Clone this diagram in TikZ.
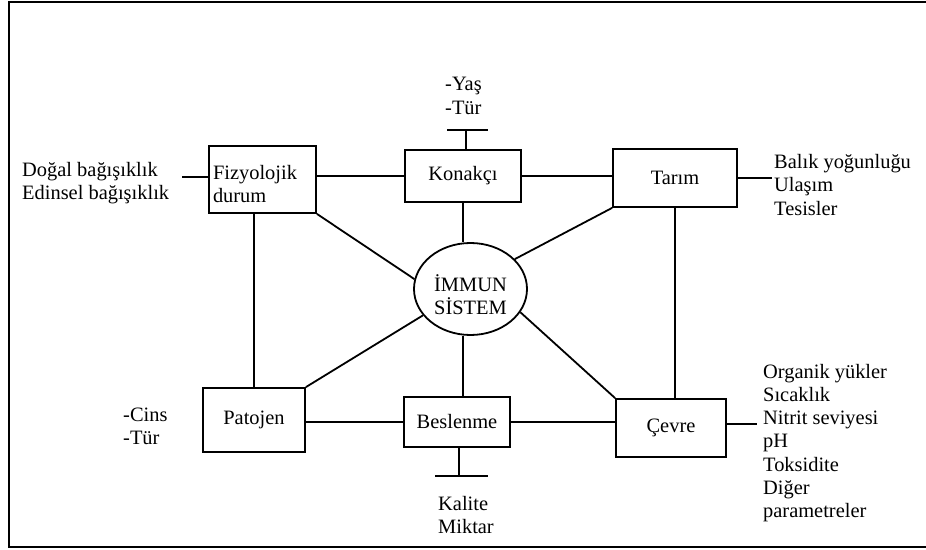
\documentclass[tikz,border=0pt]{standalone}
\usepackage{fontspec}
\setmainfont{Liberation Serif}
\usetikzlibrary{shapes.geometric}
\begin{document}
\begin{tikzpicture}[x=1bp,y=-1bp,
  every node/.style={font=\fontsize{20.5}{23.3}\selectfont},
  box/.style={draw, line width=1.8bp, inner sep=0pt, align=center},
  lbl/.style={inner sep=0pt, align=left, anchor=west},
  conn/.style={line width=1.8bp}]
\useasboundingbox (0,0) rectangle (926,550);
\draw[line width=2bp] (940,2) -- (9,2) -- (9,547) -- (940,547);

% boxes
\node[box, minimum width=107bp, minimum height=67bp, text width=99bp, inner xsep=4bp, align=left] (fiz) at (262.5,179.5) {\rule{0pt}{24pt}Fizyolojik\\durum};
\node[box, minimum width=116bp, minimum height=52bp] (kon) at (463,176) {Konakçı};
\node[box, minimum width=124bp, minimum height=58bp] (tar) at (675,178) {Tarım};
\node[box, minimum width=102bp, minimum height=64bp] (pat) at (254,420) {Patojen};
\node[box, minimum width=106bp, minimum height=50bp] (bes) at (457,422) {Beslenme};
\node[box, minimum width=110bp, minimum height=58bp] (cev) at (671,428) {Çevre};
\node[draw, ellipse, line width=1.8bp, minimum width=113bp, minimum height=92bp, inner sep=0pt] (imm) at (470.5,289) {};
\node[inner sep=0pt, align=center] (immt) at (470.5,295) {İMMUN\\SİSTEM};

% side texts
\node[lbl] (dogal) at (22,183) {Doğal bağışıklık\\Edinsel bağışıklık};
\node[lbl] (yas) at (445,96) {-Yaş\\-Tür};
\node[lbl] (balik) at (774,185) {Balık yoğunluğu\\Ulaşım\\Tesisler};
\node[lbl] (cins) at (123,426) {-Cins\\-Tür};
\node[lbl] (kalite) at (438,515) {Kalite\\Miktar};
\node[lbl] (cevt) at (763,443) {Organik yükler\\Sıcaklık\\Nitrit seviyesi\\pH\\Toksidite\\Diğer\\parametreler};

% free ends
\coordinate (fizL) at (182,177);
\coordinate (konT) at (466,130);
\coordinate (konTa) at (447,130);
\coordinate (konTb) at (488,130);
\coordinate (tarR) at (772,178);
\coordinate (cevR) at (757,424);
\coordinate (besT) at (459,476);
\coordinate (besTa) at (435,476);
\coordinate (besTb) at (488,476);

% connectors
\draw[conn] (fizL) -- (fizL -| fiz.west);
\draw[conn] (fiz.east |- kon.west) -- (kon.west);
\draw[conn] (kon.east) -- (kon.east -| tar.west);
\draw[conn] (tar.east) -- (tarR);
\draw[conn] (kon.north -| konT) -- (konT);
\draw[conn] (konTa) -- (konTb);
\draw[conn] (pat.north) -- (pat.north |- fiz.south);
\draw[conn] (kon.south) -- (kon.south |- imm.north);
\draw[conn] (kon.south |- imm.south) -- (kon.south |- bes.north);
\draw[conn] (tar.south) -- (tar.south |- cev.north);
\draw[conn] (bes.west -| pat.east) -- (bes.west);
\draw[conn] (bes.east) -- (bes.east -| cev.west);
\draw[conn] (cevR -| cev.east) -- (cevR);
\draw[conn] (bes.south -| besT) -- (besT);
\draw[conn] (besTa) -- (besTb);
\draw[conn] (fiz.south east) -- (imm.170);
\draw[conn] (tar.south west) -- (imm.34);
\draw[conn] (pat.north east) -- (imm.209);
\draw[conn] (cev.north west) -- (imm.335);
\end{tikzpicture}
\end{document}
